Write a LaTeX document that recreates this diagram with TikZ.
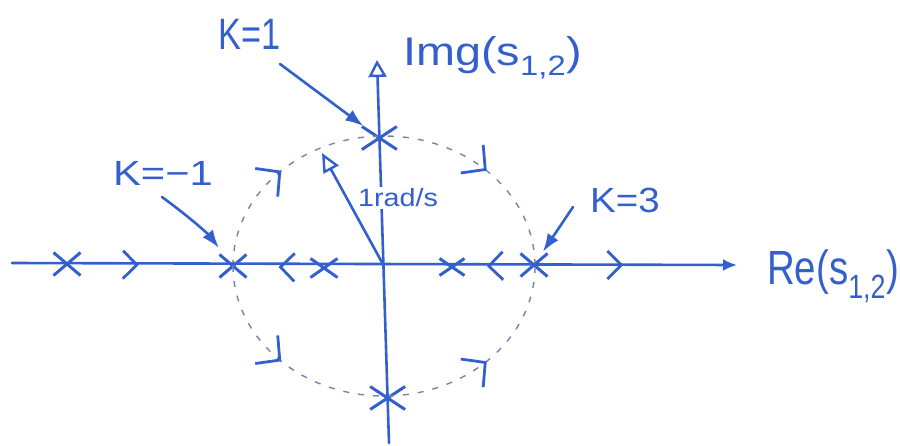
\documentclass[tikz,border=0pt]{standalone}
\usepackage{fontspec}
\setmainfont{Liberation Sans}
\usetikzlibrary{arrows.meta,shapes.misc,decorations.markings}
\definecolor{pen}{RGB}{52,96,206}
\definecolor{faint}{RGB}{118,130,172}
\newcommand{\hw}[3]{{\fontsize{#2}{#2}\selectfont\scalebox{#1}[1]{#3}}}
\begin{document}
\begin{tikzpicture}[x=1pt,y=-1pt,
  ink/.style={draw=pen,line width=2.6pt,line cap=round,line join=round},
  pole/.style={cross out,draw=pen,line width=3pt,minimum width=24pt,minimum height=20pt,inner sep=0pt},
  bigpole/.style={pole,minimum width=32pt},
  lbl/.style={text=pen,inner sep=0pt},
  guide/.style={draw=faint,line width=1.4pt,dash pattern=on 6pt off 9pt},
  twobarbs/.style={postaction={decorate},decoration={markings,
     mark=at position 0.25 with {\arrow[pen]{Straight Barb[length=17pt,width=36pt,line width=2.8pt]}},
     mark=at position 0.75 with {\arrow[pen]{Straight Barb[length=17pt,width=36pt,line width=2.8pt]}}}},
  chev/.style={postaction={decorate},decoration={markings,
     mark=at position #1 with {\arrow[pen]{Straight Barb[length=14pt,width=28pt,line width=2.8pt]}}}},
  ptr/.style={ink,-{Latex[length=18pt,width=13pt]}},
]
\useasboundingbox (0,0) rectangle (900,445);

% coordinates
\coordinate (O) at (383.4,265);
\coordinate (reL) at (12,263);
\coordinate (reR) at (737,265);
\coordinate (imB) at (389,443);
\coordinate (imT) at (377,60);
\coordinate (r1) at (322,153);
\coordinate (k1s) at (280,64);
\coordinate (kms) at (162,197);
\coordinate (k3s) at (573,207);

% poles / crossings
\node[pole] (p1) at (67,264) {};
\node[pole] (pKm) at (233,266) {};
\node[pole,minimum height=16pt] (p2) at (324,268) {};
\node[pole,minimum width=22pt,minimum height=14pt] (p3) at (452,267) {};
\node[pole] (pK3) at (534,265) {};
\node[bigpole] (pT) at (379.4,138) {};
\node[bigpole] (pB) at (387.6,398) {};

% dashed circle with direction marks
\path[guide,twobarbs] (pKm.center) arc[start angle=180,end angle=270,x radius=151,y radius=130]
                                   arc[start angle=270,end angle=360,x radius=151,y radius=130];
\path[guide,twobarbs] (pKm.center) arc[start angle=180,end angle=90,x radius=151,y radius=130]
                                   arc[start angle=90,end angle=0,x radius=151,y radius=130];

% axes
\draw[ink,-{Latex[length=14pt,width=12pt]}] (reL) -- (reR);
\draw[ink,-{Triangle[open,length=17pt,width=18pt,line width=2.4pt]}] (imB) -- (imT);

% direction marks on real axis
\path[chev=0.42] (p1) -- (pKm);
\path[chev=0.5] (p2) -- (pKm);
\path[chev=0.6] (pK3) -- (p3);
\path[chev=0.4] (pK3) -- (reR);

% radius vector
\draw[ink,-{Triangle[open,length=19pt,width=17pt,line width=2.4pt]}] (O) -- (r1);

% labels
\node[lbl] (k1) at (250,34) {\hw{0.78}{44}{K=1}};
\node[lbl] (km1) at (163,173) {\hw{1.19}{35}{K=−1}};
\node[lbl] (k3) at (625,200) {\hw{1.1}{35}{K=3}};
\node[lbl,anchor=base west] (iml) at (403,65) {\hw{1.17}{40}{Img(s\textsubscript{1,2})}};
\node[lbl,anchor=base west] (rel) at (767,284) {\hw{0.8}{48}{Re(s\textsubscript{1,2})}};
\node[lbl,fill=white,inner sep=2pt] (rad) at (398,198) {\hw{1.15}{25}{1rad/s}};

% pointers
\draw[ptr,shorten >=20pt] (k1s) -- (pT.center);
\draw[ptr,shorten >=23pt] (kms) to[bend left=8] (pKm.center);
\draw[ptr,shorten >=16pt] (k3s) -- (pK3.center);
\end{tikzpicture}
\end{document}
